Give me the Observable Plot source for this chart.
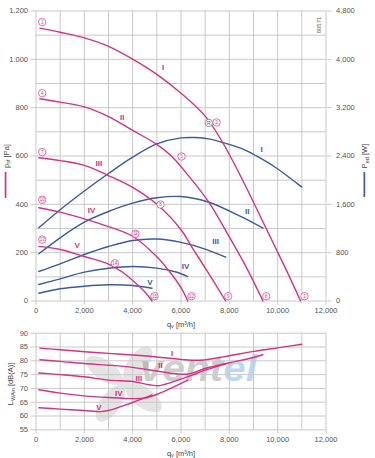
<!DOCTYPE html>
<html><head><meta charset="utf-8">
<script src="https://cdn.jsdelivr.net/npm/d3@7"></script>
<script src="https://cdn.jsdelivr.net/npm/@observablehq/plot@0.6"></script>
<style>
body{margin:0;background:#fff;font-family:"Liberation Sans",Arial,sans-serif;}
#wrap{position:relative;width:375px;height:458px;overflow:hidden;background:#fff;}
#wrap > svg{position:absolute;left:0;background:transparent !important;overflow:visible;}
</style></head><body>
<div id="wrap"></div>
<script>
// ---------- DATA (flow q in m³/h) ----------
// static pressure curves [q, Pa]
const pressI   = [[160,1129],[1000,1112],[2000,1089],[3000,1054],[4000,1001],[5000,938],[6000,860],[7000,765],[7700,660],[8500,510],[9500,305],[10300,140],[10950,0]];
const pressII  = [[160,837],[1000,823],[2000,803],[3000,763],[4000,706],[5000,648],[5600,600],[6300,520],[7150,409],[8000,265],[8700,140],[9390,0]];
const pressIII = [[116,593],[1000,581],[2000,561],[3000,519],[4000,470],[5000,400],[6000,295],[6500,215],[7000,137],[7850,0]];
const pressIV  = [[116,386],[1000,368],[2000,340],[3000,308],[4000,268],[5000,183],[5500,125],[6000,55],[6280,0]];
const pressV   = [[116,226],[1000,213],[2000,184],[3000,153],[3600,118],[4000,85],[4500,38],[4800,0]];
// input power curves [q, W]
const powerI   = [[116,1211],[1000,1510],[2000,1820],[3000,2110],[4000,2380],[5000,2600],[6000,2700],[6600,2705],[7150,2684],[7700,2628],[8500,2525],[9100,2405],[9900,2214],[11000,1885]];
const powerII  = [[116,781],[1000,1046],[2000,1304],[3000,1481],[4000,1619],[5000,1708],[6000,1729],[7150,1635],[8530,1387],[9390,1205]];
const powerIII = [[116,488],[1000,616],[2000,770],[3000,902],[4000,1001],[5000,1025],[6000,970],[7000,860],[7850,725]];
const powerIV  = [[116,273],[1000,367],[2000,477],[3000,543],[4000,571],[5000,545],[5800,480],[6280,405]];
const powerV   = [[116,129],[1000,202],[2000,245],[3000,268],[4000,257],[4800,212]];
// sound power level curves [q, dB(A)]
const noiseI   = [[160,84.6],[1000,84.0],[2000,83.3],[3000,82.7],[4000,82.1],[5000,81.4],[6000,80.5],[6800,80.2],[7800,81.5],[9000,83.4],[10000,84.7],[11000,86.0]];
const noiseII  = [[160,80.4],[1000,79.8],[2000,79.0],[3000,78.4],[4000,77.6],[5000,76.3],[5800,75.3],[6300,75.2],[7000,77.2],[8000,79.3],[9000,81.2],[9390,82.2]];
const noiseIII = [[116,75.6],[1000,75.0],[2000,74.2],[3000,73.0],[4000,72.5],[4700,71.3],[5100,71.0],[5600,72.2],[6400,74.6],[7000,76.6],[7850,78.8]];
const noiseIV  = [[116,69.5],[1000,68.3],[2000,67.3],[3000,66.7],[4000,66.3],[4500,66.5],[5000,67.8],[5500,69.7],[6280,73.0]];
const noiseV   = [[116,63.0],[1000,62.5],[2000,62.0],[2700,61.6],[3100,62.2],[3500,63.4],[4000,64.9],[4500,66.6],[4800,67.6]];
// operating points [number, q, Pa]
const opPoints = [[1,257,1154],[2,7469,739],[3,11110,20],[4,257,860],[5,6021,598],[6,9526,20],[7,257,616],[8,5152,399],[9,7953,20],[10,257,419],[11,4117,278],[12,6435,20],[13,257,254],[14,3261,156],[15,4903,20]];
const refPoint = [["R",7150,737]];
// curve labels
const pressLabels = [["I",5264,965],["II",3567,761],["III",2599,568],["IV",2297,374],["V",1705,230]];
const powerLabels = [["I",9331,2508],["II",8740,1481],["III",7428,990],["IV",6186,576],["V",4709,311]];
const noiseLabels = [["I",5636,82.5],["II",5152,78.3],["III",4254,73.5],["IV",3426,68.0],["V",2599,63.2]];
// ticks
const xTicks = [0,2000,4000,6000,8000,10000,12000];
const pressTicks = [0,200,400,600,800,1000,1200];
const powerTicks = [0,800,1600,2400,3200,4000,4800];
const noiseTicks = [55,60,65,70,75,80,85,90];

// ---------- STYLE ----------
const pink = "#d6327f", blue = "#3a5aa6", gridC = "#c9c9c9", txtC = "#555";
const fmtC = d3.format(",");
const fmtDot = d => fmtC(d).replace(",", ".");
const series = (names, arrs, k=1) => arrs.flatMap((a,i) => a.map(([q,v]) => ({q, v: v*k, s: names[i]})));
const names = ["I","II","III","IV","V"];
const pressData = series(names, [pressI,pressII,pressIII,pressIV,pressV]);
const powerData = series(names, [powerI,powerII,powerIII,powerIV,powerV]);
const noiseData = series(names, [noiseI,noiseII,noiseIII,noiseIV,noiseV]);
const wRatio = 1200/4800;
const font = "Liberation Sans, Arial, sans-serif";
const lblFont = "Liberation Sans Narrow, Liberation Sans, sans-serif";

const wrap = document.getElementById("wrap");
const NS = "http://www.w3.org/2000/svg";

// watermark (behind)
const wm = document.createElementNS(NS, "svg");
wm.setAttribute("width", 375); wm.setAttribute("height", 458); wm.style.top = "0px";
wm.innerHTML = `
<g fill="#8a8a8a" opacity="0.22" transform="translate(124,384)">
  <ellipse cx="0" cy="-24" rx="10" ry="21" transform="rotate(35)"/>
  <ellipse cx="0" cy="-24" rx="10" ry="21" transform="rotate(125)"/>
  <ellipse cx="0" cy="-24" rx="10" ry="21" transform="rotate(215)"/>
  <ellipse cx="0" cy="-24" rx="10" ry="21" transform="rotate(305)"/>
  <circle r="7"/>
</g>
<text x="140" y="381" font-family="${font}" font-weight="bold" font-style="italic" font-size="36" textLength="117" lengthAdjust="spacingAndGlyphs"><tspan fill="#6e6e6e" fill-opacity="0.35">vent</tspan><tspan fill="#7db4e0" fill-opacity="0.5">el</tspan></text>`;
wrap.appendChild(wm);

// ---------- TOP CHART ----------
const topPlot = Plot.plot({
  width: 375, height: 330,
  marginTop: 10.5, marginBottom: 29.5, marginLeft: 35.5, marginRight: 49.5,
  style: {fontFamily: font, fontSize: "7.5px", color: txtC, background: "transparent", overflow: "visible"},
  x: {domain: [0, 12000]},
  y: {domain: [0, 1200]},
  marks: [
    Plot.ruleX(d3.range(0, 12001, 1000), {stroke: gridC, strokeWidth: 1}),
    Plot.ruleY(d3.range(0, 1201, 100), {stroke: gridC, strokeWidth: 1}),
    Plot.axisY(pressTicks, {anchor: "left", tickSize: 5, tickPadding: 3, tickFormat: fmtDot, label: null, stroke: gridC, fill: txtC}),
    Plot.axisY(powerTicks.map(d => d*wRatio), {anchor: "right", tickSize: 5, tickPadding: 5, tickFormat: d => fmtC(Math.round(d/wRatio)), label: null, stroke: gridC, fill: txtC}),
    Plot.axisX(xTicks, {tickSize: 4, tickPadding: 3, tickFormat: fmtC, label: null, stroke: gridC, fill: txtC}),
    Plot.line(powerData, {x: "q", y: d => d.v*wRatio, z: "s", stroke: blue, strokeWidth: 1.4, curve: "catmull-rom"}),
    Plot.line(pressData, {x: "q", y: "v", z: "s", stroke: pink, strokeWidth: 1.4, curve: "catmull-rom"}),
    Plot.dot(opPoints, {x: d => d[1], y: d => d[2], r: 3.7, stroke: pink, strokeWidth: 0.7, fill: "white"}),
    Plot.text(opPoints, {x: d => d[1], y: d => d[2], text: d => String(d[0]), fill: pink, fontSize: 4.5, fontFamily: font}),
    Plot.dot(refPoint, {x: d => d[1], y: d => d[2], r: 3.7, stroke: "#666", strokeWidth: 0.7, fill: "white"}),
    Plot.text(refPoint, {x: d => d[1], y: d => d[2], text: d => d[0], fill: "#555", fontSize: 5, fontFamily: font}),
    Plot.text(pressLabels, {x: d => d[1], y: d => d[2], text: d => d[0], fill: pink, fontSize: 8, fontWeight: "bold", fontFamily: lblFont}),
    Plot.text(powerLabels, {x: d => d[1], y: d => d[2]*wRatio, text: d => d[0], fill: blue, fontSize: 8, fontWeight: "bold", fontFamily: lblFont})
  ]
});
topPlot.style.top = "0px";
wrap.appendChild(topPlot);

// ---------- BOTTOM CHART ----------
const botPlot = Plot.plot({
  width: 375, height: 133,
  marginTop: 7.7, marginBottom: 28.7, marginLeft: 35.5, marginRight: 49.5,
  style: {fontFamily: font, fontSize: "7.5px", color: txtC, background: "transparent", overflow: "visible"},
  x: {domain: [0, 12000]},
  y: {domain: [55, 90]},
  marks: [
    Plot.ruleX(d3.range(0, 12001, 1000), {stroke: gridC, strokeWidth: 1}),
    Plot.ruleY(noiseTicks, {stroke: gridC, strokeWidth: 1}),
    Plot.axisY(noiseTicks, {anchor: "left", tickSize: 5, tickPadding: 3, label: null, stroke: gridC, fill: txtC}),
    Plot.axisX(xTicks, {tickSize: 4, tickPadding: 3, tickFormat: fmtC, label: null, stroke: gridC, fill: txtC}),
    Plot.line(noiseData, {x: "q", y: "v", z: "s", stroke: pink, strokeWidth: 1.4, curve: "catmull-rom"}),
    Plot.text(noiseLabels, {x: d => d[1], y: d => d[2], text: d => d[0], fill: pink, fontSize: 8, fontWeight: "bold", fontFamily: lblFont})
  ]
});
botPlot.style.top = "325px";
wrap.appendChild(botPlot);

// ---------- AXIS TITLES (overlay) ----------
const ov = document.createElementNS(NS, "svg");
ov.setAttribute("width", 375); ov.setAttribute("height", 458); ov.style.top = "0px";
ov.setAttribute("font-family", font); ov.setAttribute("fill", "#444");
ov.innerHTML = `
<text transform="translate(8.5,156) rotate(-90)" text-anchor="middle" font-size="7.5">p<tspan font-size="5.5" dy="1.5">sf</tspan><tspan dy="-1.5"> [Pa]</tspan></text>
<rect x="4.7" y="172" width="1.7" height="26" fill="${pink}"/>
<text transform="translate(367,156) rotate(-90)" text-anchor="middle" font-size="7.5">P<tspan font-size="5.5" dy="1.5">ed</tspan><tspan dy="-1.5"> [W]</tspan></text>
<rect x="363.5" y="172" width="1.7" height="25" fill="${blue}"/>
<text x="181" y="326.5" text-anchor="middle" font-size="7.5">q<tspan font-size="5.5" dy="1.5">v</tspan><tspan dy="-1.5"> [m³/h]</tspan></text>
<text x="181" y="455.5" text-anchor="middle" font-size="7.5">q<tspan font-size="5.5" dy="1.5">v</tspan><tspan dy="-1.5"> [m³/h]</tspan></text>
<text transform="translate(13,384) rotate(-90)" text-anchor="middle" font-size="7.5">L<tspan font-size="5.5" dy="1.5">WAin</tspan><tspan dy="-1.5"> [dB(A)]</tspan></text>
<text transform="translate(320.5,25) rotate(-90)" text-anchor="middle" font-size="6" fill="#666">80571</text>`;
wrap.appendChild(ov);
</script>
</body></html>
